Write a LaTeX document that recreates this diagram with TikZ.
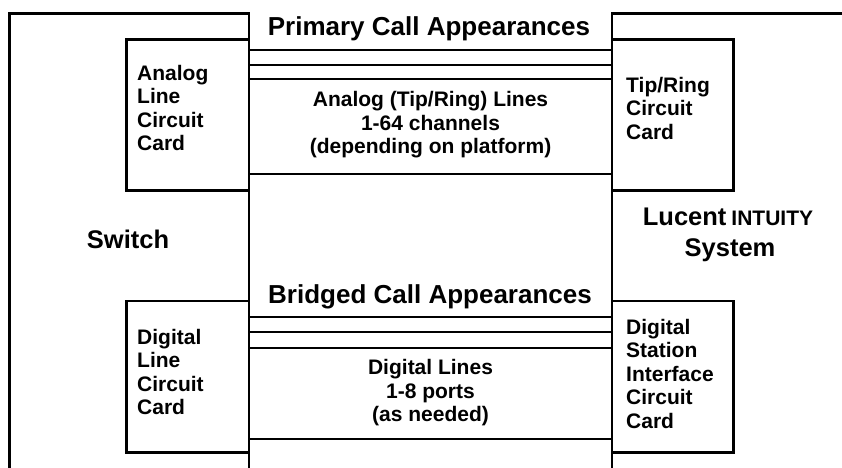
\documentclass[tikz,border=0pt]{standalone}
\usepackage{fontspec}
\setmainfont{Liberation Sans}
\begin{document}
\begin{tikzpicture}[x=1pt,y=-1pt,
  frame/.style={line width=2.8pt, line join=miter},
  card/.style={draw, line width=2.8pt, inner sep=0pt, minimum width=122.3pt, minimum height=151.3pt},
  chan/.style={line width=1.9pt},
  title/.style={inner sep=0pt, font=\fontsize{26}{30}\selectfont\bfseries},
  big/.style={inner sep=0pt, font=\fontsize{25.5}{30}\selectfont\bfseries},
  body/.style={inner sep=0pt, align=center, font=\fontsize{21}{23.5}\selectfont\bfseries},
  cardtext/.style={inner sep=0pt, align=left, anchor=north west, font=\fontsize{21}{23.5}\selectfont\bfseries}]
\useasboundingbox (0,0) rectangle (842,467);
\clip (0,0) rectangle (842,467);
% outer frames
\draw[frame] (249,470) -- (249,13.3) -- (9.3,13.3) -- (9.3,470);
\draw[frame] (612,470) -- (612,13.3) -- (845,13.3);
% cards
\node[card] (alc) at (187.85,114.9) {};
\node[card, minimum width=121.3pt] (trc) at (672.65,115.1) {};
\node[card] (dlc) at (187.85,376.65) {};
\node[card, minimum width=121.3pt] (dsi) at (672.65,376.65) {};
% channel levels
\coordinate (a1) at (0,50);
\coordinate (a2) at (0,65);
\coordinate (a3) at (0,79);
\coordinate (a4) at (0,174);
\coordinate (d1) at (0,317.3);
\coordinate (d2) at (0,331.7);
\coordinate (d3) at (0,347.7);
\coordinate (d4) at (0,439);
\foreach \c in {a1,a2,a3,a4}
  \draw[chan] (alc.east |- \c) -- (trc.west |- \c);
\foreach \c in {d1,d2,d3,d4}
  \draw[chan] (dlc.east |- \c) -- (dsi.west |- \c);
% texts
\node[title, anchor=base] (pca) at (429,35.5) {Primary Call Appearances};
\node[title, anchor=base] (bca) at (430,303.3) {Bridged Call Appearances};
\node[body, anchor=north] (atr) at (430.5,91.5) {Analog (Tip/Ring) Lines\\1-64 channels\\(depending on platform)};
\node[body, anchor=north] (dln) at (430.5,359.5) {Digital Lines\\1-8 ports\\(as needed)};
\node[cardtext] (alct) at (137,65) {Analog\\Line\\Circuit\\Card};
\node[cardtext] (trct) at (626,76.7) {Tip/Ring\\Circuit\\Card};
\node[cardtext] (dlct) at (137,329) {Digital\\Line\\Circuit\\Card};
\node[cardtext] (dsit) at (626,319) {Digital\\Station\\Interface\\Circuit\\Card};
\node[big, anchor=base] (sw) at (128,248.3) {Switch};
\node[big, anchor=base] (luc) at (728,225.5) {Lucent\kern5pt{\fontsize{21}{25}\selectfont INTUITY}};
\node[big, anchor=base] (sys) at (730,256.5) {System};
\end{tikzpicture}
\end{document}
